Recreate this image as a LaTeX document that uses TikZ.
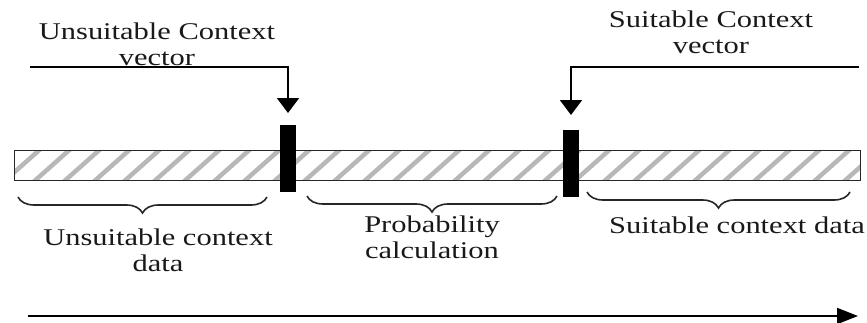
\documentclass[tikz,border=0pt]{standalone}
\usepackage{fontspec}
\setmainfont{Liberation Serif}
\usetikzlibrary{arrows.meta,decorations.pathreplacing}
\begin{document}
\begin{tikzpicture}[x=1pt,y=-1pt,
  lbl/.style={inner sep=0pt, align=center, anchor=north, xscale=1.27,
    font=\fontsize{24}{26}\selectfont, text=black!90},
  conn/.style={line width=1.8pt, -{Triangle[length=15pt,width=22pt]}},
  markbox/.style={fill=black, draw=none},
  brc/.style={decorate, decoration={brace, mirror, amplitude=16pt}, line width=1.6pt, black!85},
  hatch/.style={line width=4.5pt, black!28}]
\useasboundingbox (0,0) rectangle (867,322);
% bar
\begin{scope}
  \clip (14,150) rectangle (860,180);
  \foreach \x in {0,30,...,900} \draw[hatch] (\x,185) -- ++(45,-40);
\end{scope}
\node[draw=black!85, line width=1.4pt, minimum width=846pt, minimum height=30pt, inner sep=0pt, anchor=north west] (bar) at (14,150) {};
% markers
\node[markbox, minimum width=16pt, minimum height=67pt, inner sep=0pt, anchor=north west] (m1) at (280,125) {};
\node[markbox, minimum width=16pt, minimum height=67pt, inner sep=0pt, anchor=north west] (m2) at (563,130) {};
% arrows
\coordinate (s1) at (30,67);
\coordinate (t1) at (288,113);
\coordinate (s2) at (859,67);
\coordinate (t2) at (571,115);
\draw[conn] (s1) -| (t1);
\draw[conn] (s2) -| (t2);
% top labels
\node[lbl] (l1) at (157,22.5) {Unsuitable Context\\vector};
\node[lbl] (l2) at (711,11) {Suitable Context\\vector};
% braces
\coordinate (b1a) at (18,197); \coordinate (b1b) at (267,197);
\coordinate (b2a) at (307,196); \coordinate (b2b) at (557,196);
\coordinate (b3a) at (587,192); \coordinate (b3b) at (850,192);
\draw[brc] (b1a) -- (b1b);
\draw[brc] (b2a) -- (b2b);
\draw[brc] (b3a) -- (b3b);
% bottom labels
\node[lbl] (l3) at (158,229) {Unsuitable context\\data};
\node[lbl] (l4) at (432,216) {Probability\\calculation};
\node[lbl] (l5) at (737,217) {Suitable context data};
% time arrow
\coordinate (ta) at (28,316);
\coordinate (tb) at (858,316);
\draw[line width=2pt, -{Triangle[length=21pt,width=16pt]}] (ta) -- (tb);
\end{tikzpicture}
\end{document}
